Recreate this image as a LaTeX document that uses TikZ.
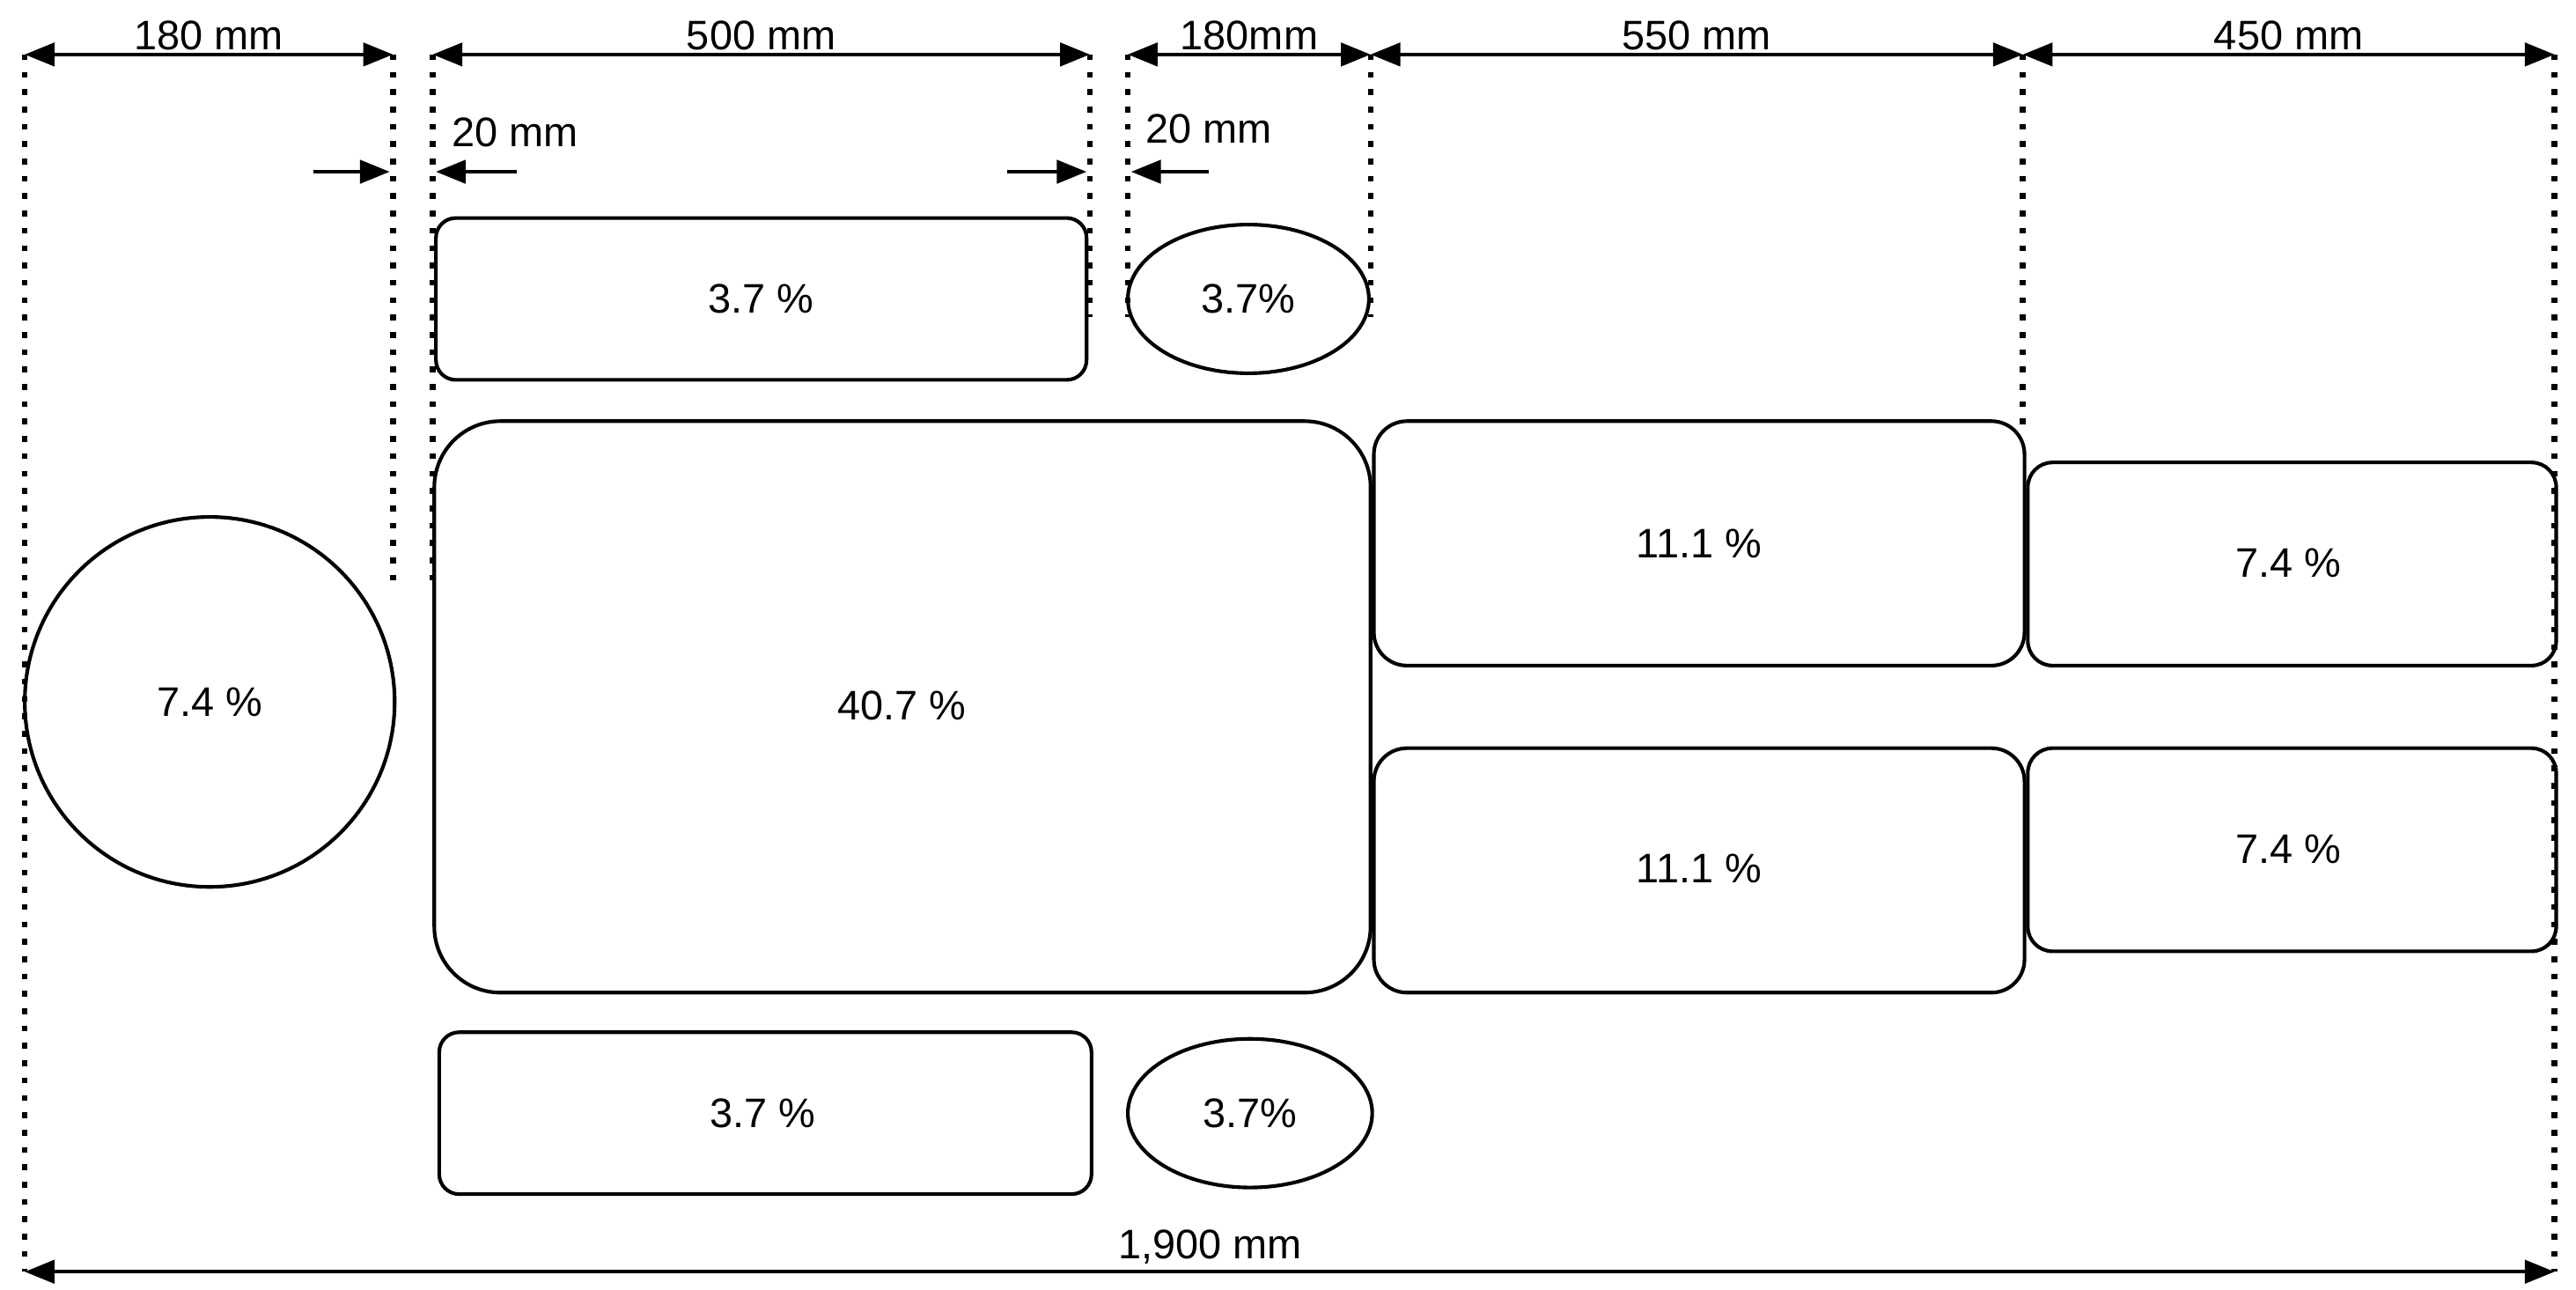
\documentclass[tikz,border=0pt]{standalone}
\usepackage{fontspec}
\setmainfont{Liberation Sans}
\usetikzlibrary{arrows.meta}
\begin{document}
\begin{tikzpicture}[x=1pt,y=-1pt,
  every node/.style={font=\fontsize{25}{29}\selectfont},
  box/.style={draw,line width=2.2pt,rounded corners=#1},
  dim/.style={line width=2.2pt,{Triangle[width=14pt,length=18pt]}-{Triangle[width=14pt,length=18pt]}},
  sarr/.style={line width=2.2pt,-{Triangle[width=14pt,length=18pt]}},
  dot/.style={line width=3.5pt,dash pattern=on 3.5pt off 7pt}]
\useasboundingbox (0,0) rectangle (1560,781);
% dotted guides
\foreach \x/\a/\b in {15/33/770,238/33/352,262/33/352,660/33/192,683/33/192,830/33/192,1225/33/262,1547/33/770}
  \draw[dot] (\x,\a) -- (\x,\b);
% top dimensions
\coordinate (d0) at (15,33); \coordinate (d1) at (238,33); \coordinate (d2) at (262,33);
\coordinate (d3) at (660,33); \coordinate (d4) at (683,33); \coordinate (d5) at (830,33);
\coordinate (d6) at (1225,33); \coordinate (d7) at (1547,33);
\draw[dim] (d0) -- node[above=-2pt] (l1) {180 mm} (d1);
\draw[dim] (d2) -- node[above=-2pt] (l2) {500 mm} (d3);
\draw[dim] (d4) -- node[above=-2pt] (l3) {180mm} (d5);
\draw[dim] (d5) -- node[above=-2pt] (l4) {550 mm} (d6);
\draw[dim] (d6) -- node[above=-2pt] (l5) {450 mm} (d7);
% 20 mm arrows
\coordinate (s1) at (190,104); \coordinate (e1) at (236,104);
\coordinate (s2) at (313,104); \coordinate (e2) at (264,104);
\coordinate (s3) at (610,104); \coordinate (e3) at (658,104);
\coordinate (s4) at (732,104); \coordinate (e4) at (685,104);
\draw[sarr] (s1) -- (e1); \draw[sarr] (s2) -- (e2);
\draw[sarr] (s3) -- (e3); \draw[sarr] (s4) -- (e4);
\node (t1) at (312,80) {20 mm};
\node (t2) at (732,78) {20 mm};
% shapes
\draw[box=12pt] (264,132) rectangle (658,230); \node (a1) at (461,181) {3.7 \%};
\draw[line width=2.2pt] (756,181) ellipse [x radius=73, y radius=45]; \node (a2) at (756,181) {3.7\%};
\draw[line width=2.2pt] (127,425) circle [radius=112]; \node (a3) at (127,425) {7.4 \%};
\draw[box=40pt] (263,255) rectangle (830,601); \node (a4) at (546,427) {40.7 \%};
\draw[box=20pt] (832,255) rectangle (1226,403); \node (a5) at (1029,329) {11.1 \%};
\draw[box=20pt] (832,453) rectangle (1226,601); \node (a6) at (1029,526) {11.1 \%};
\draw[box=15pt] (1228,280) rectangle (1548,403); \node (a7) at (1386,341) {7.4 \%};
\draw[box=15pt] (1228,453) rectangle (1548,576); \node (a8) at (1386,514) {7.4 \%};
\draw[box=12pt] (266,625) rectangle (661,723); \node (a9) at (462,674) {3.7 \%};
\draw[line width=2.2pt] (757,674) ellipse [x radius=74, y radius=45]; \node (a10) at (757,674) {3.7\%};
% bottom dimension
\coordinate (b0) at (15,770); \coordinate (b1) at (1547,770);
\draw[dim] (b0) -- (b1);
\node (bl) at (733,755) {1,900 mm};
\end{tikzpicture}
\end{document}
